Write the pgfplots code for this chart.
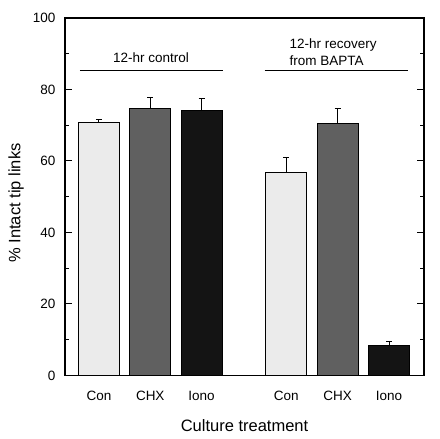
\documentclass[border=0pt]{standalone}
\usepackage{pgfplots}
\pgfplotsset{compat=1.18}
\usepackage{fontspec}
\setmainfont{Liberation Sans}
\definecolor{barlight}{HTML}{EBEBEB}
\definecolor{barmid}{HTML}{606060}
\definecolor{bardark}{HTML}{141414}
\begin{document}
\begin{tikzpicture}
\useasboundingbox (0,0) rectangle (440pt,439pt);
\begin{axis}[
  at={(65pt,63.5pt)}, anchor=south west,
  scale only axis, width=359pt, height=357.5pt,
  xmin=0.34, xmax=7.33, ymin=0, ymax=100,
  axis line style={line width=1.2pt},
  ytick={0,20,...,100}, minor y tick num=1,
  xtick={1,2,3,4.65,5.65,6.65},
  xticklabels={Con,CHX,Iono,Con,CHX,Iono},
  x tick style={draw=none},
  y tick style={line width=1pt, black},
  major tick length=7pt, minor tick length=4.5pt,
  tick align=inside,
  /pgf/number format/assume math mode=true,
  ticklabel style={font=\fontsize{13.5}{16}\selectfont},
  yticklabel style={xshift=-6pt},
  xticklabel style={yshift=-12pt},
  xlabel={Culture treatment},
  ylabel={\% Intact tip links},
  label style={font=\fontsize{16.5}{19}\selectfont},
  xlabel style={at={(axis description cs:0.5,0)}, anchor=center, yshift=-50.5pt},
  ylabel style={at={(axis description cs:0,0.4825)}, anchor=center, yshift=49pt},
  clip=false,
]
\addplot[ybar, bar width=0.8, bar shift=0pt, fill=barlight, draw=black, line width=1pt,
  error bars/.cd, y dir=plus, y explicit,
  error bar style={line width=1pt, black},
  error mark options={rotate=90, mark size=3pt, line width=1pt, black}]
  coordinates {(1,70.7) +- (0,0.8) (4.65,56.7) +- (0,4.2)};
\addplot[ybar, bar width=0.8, bar shift=0pt, fill=barmid, draw=black, line width=1pt,
  error bars/.cd, y dir=plus, y explicit,
  error bar style={line width=1pt, black},
  error mark options={rotate=90, mark size=3pt, line width=1pt, black}]
  coordinates {(2,74.7) +- (0,3.1) (5.65,70.5) +- (0,4.1)};
\addplot[ybar, bar width=0.8, bar shift=0pt, fill=bardark, draw=black, line width=1pt,
  error bars/.cd, y dir=plus, y explicit,
  error bar style={line width=1pt, black},
  error mark options={rotate=90, mark size=3pt, line width=1pt, black}]
  coordinates {(3,74.1) +- (0,3.3) (6.65,8.3) +- (0,1.3)};
\addplot[black, line width=1pt] coordinates {(0.63,85.2) (3.42,85.2)};
\addplot[black, line width=1pt] coordinates {(4.225,85.2) (7.02,85.2)};
\node[font=\fontsize{13.5}{16}\selectfont] at (axis cs:2.016,88.9) {12-hr control};
\node[font=\fontsize{13.5}{17.5}\selectfont, anchor=west, align=left, inner sep=0pt]
  at (axis cs:4.71,90.5) {12-hr recovery\\from BAPTA};
\end{axis}
\end{tikzpicture}
\end{document}
